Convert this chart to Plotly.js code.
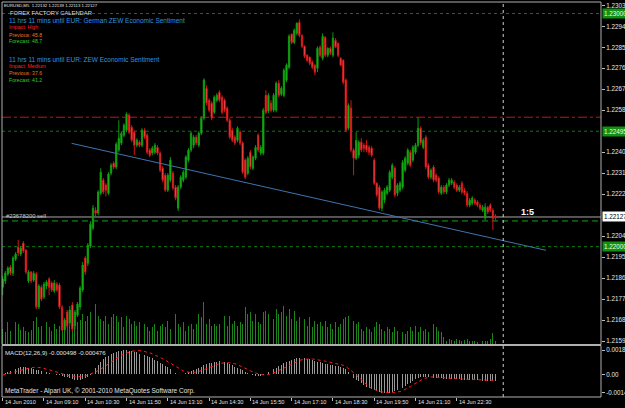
<!DOCTYPE html>
<html><head><meta charset="utf-8">
<script src="https://cdn.plot.ly/plotly-3.0.1.min.js"></script>
<style>html,body{margin:0;padding:0;background:#000;}#chart{width:625px;height:408px;}</style>
</head><body><div id="chart"></div>
<script>
// ---- EURUSD M5, 14 Jun 2010 07:50 .. 23:45 (bar by bar) ----
const openP = [
1.21826,1.21852,1.21882,1.21912,1.21886,1.21946,1.21998,1.21968,1.22015,1.21985,
1.21852,1.21891,1.21856,1.21882,1.21741,1.21826,1.21784,1.21831,1.21861,1.21844,
1.21809,1.21839,1.21835,1.21741,1.21642,1.21719,1.21672,1.21749,1.21659,1.21706,
1.21741,1.21814,1.21951,1.21929,1.22002,1.22079,1.22156,1.22144,1.22229,1.22285,
1.22264,1.22229,1.22315,1.22358,1.22341,1.22414,1.22444,1.22478,1.22499,1.22564,
1.22512,1.22491,1.22435,1.22448,1.22435,1.22499,1.22478,1.22414,1.22401,1.22405,
1.22426,1.22401,1.22336,1.22306,1.22242,1.22285,1.22315,1.22255,1.22165,1.22255,
1.22285,1.22298,1.22371,1.22414,1.22435,1.22469,1.22435,1.22486,1.22551,1.22679,
1.22628,1.22615,1.22576,1.22628,1.22662,1.22641,1.22628,1.22594,1.22542,1.22499,
1.22469,1.22456,1.22491,1.22444,1.22371,1.22315,1.22405,1.22336,1.22379,1.22478,
1.22401,1.22401,1.22649,1.22581,1.22615,1.22585,1.22585,1.22701,1.22654,1.22649,
1.22714,1.22769,1.22911,1.22876,1.22915,1.22962,1.22906,1.22859,1.22821,1.22812,
1.22791,1.22778,1.22765,1.22855,1.22808,1.22898,1.22821,1.22851,1.22821,1.22885,
1.22872,1.22808,1.22799,1.22714,1.22508,1.22594,1.22414,1.22379,1.22392,1.22448,
1.22435,1.22435,1.22426,1.22422,1.22371,1.22272,1.22255,1.22165,1.22199,1.22229,
1.22242,1.22298,1.22336,1.22229,1.22242,1.22255,1.22328,1.22358,1.22405,1.22371,
1.22405,1.22435,1.22508,1.22426,1.22469,1.22349,1.22298,1.22341,1.22306,1.22294,
1.22229,1.22255,1.22234,1.22264,1.22272,1.22276,1.22264,1.22242,1.22272,1.22242,
1.22229,1.22178,1.22186,1.22199,1.22191,1.22178,1.22156,1.22122,1.22169,1.22178,
1.22156,1.22132];
const highP = [
1.21874,1.21895,1.21916,1.21921,1.21959,1.21976,1.22028,1.22002,1.22024,1.21989,
1.21899,1.21895,1.21895,1.21891,1.21839,1.21835,1.21848,1.21856,1.21869,1.21852,
1.21856,1.21848,1.21844,1.21749,1.21694,1.21728,1.21745,1.21762,1.21728,1.21762,
1.21831,1.21934,1.21959,1.22015,1.22109,1.22178,1.22169,1.22242,1.22336,1.22294,
1.22272,1.22319,1.22358,1.22366,1.22448,1.22542,1.22495,1.22529,1.22576,1.22572,
1.22521,1.22499,1.22465,1.22456,1.22508,1.22508,1.22486,1.22422,1.22431,1.22444,
1.22435,1.22409,1.22345,1.22315,1.22315,1.22384,1.22324,1.22264,1.22264,1.22306,
1.22328,1.22392,1.22422,1.22495,1.22478,1.22478,1.22495,1.22559,1.22722,1.22692,
1.22636,1.22624,1.22649,1.22658,1.22671,1.22649,1.22636,1.22602,1.22551,1.22508,
1.22478,1.22516,1.22499,1.22452,1.22379,1.22388,1.22414,1.22392,1.22435,1.22486,
1.22435,1.22594,1.22671,1.22658,1.22628,1.22658,1.22709,1.22714,1.22688,1.22765,
1.22786,1.22911,1.22915,1.22936,1.22962,1.22975,1.22911,1.22864,1.22825,1.22816,
1.22799,1.22782,1.22859,1.22864,1.22915,1.22902,1.22855,1.22859,1.22919,1.22894,
1.22876,1.22812,1.22804,1.22722,1.22615,1.22628,1.22422,1.22491,1.22456,1.22465,
1.22444,1.22456,1.22435,1.22431,1.22379,1.22276,1.22264,1.22242,1.22251,1.22264,
1.22328,1.22358,1.22345,1.22272,1.22281,1.22371,1.22388,1.22422,1.22414,1.22435,
1.22444,1.22555,1.22516,1.22465,1.22478,1.22358,1.22336,1.22349,1.22315,1.22302,
1.22264,1.22264,1.22272,1.22294,1.22294,1.22285,1.22272,1.22264,1.22281,1.22251,
1.22238,1.22208,1.22216,1.22208,1.22199,1.22186,1.22178,1.22186,1.22174,1.22186,
1.22165,1.22139];
const lowP = [
1.21792,1.21839,1.21874,1.21878,1.21874,1.21938,1.21959,1.21959,1.21972,1.21882,
1.21844,1.21844,1.21848,1.21732,1.21732,1.21766,1.21775,1.21818,1.21792,1.21805,
1.21801,1.21805,1.21732,1.21638,1.21634,1.21651,1.21659,1.21634,1.21646,1.21698,
1.21728,1.21805,1.21878,1.21916,1.21994,1.22071,1.22131,1.22135,1.22221,1.22225,
1.22216,1.22221,1.22306,1.22332,1.22332,1.22405,1.22435,1.22469,1.22491,1.22482,
1.22448,1.22392,1.22426,1.22426,1.22426,1.22461,1.22396,1.22384,1.22392,1.22396,
1.22392,1.22319,1.22276,1.22234,1.22234,1.22276,1.22242,1.22199,1.22152,1.22246,
1.22276,1.22289,1.22362,1.22405,1.22422,1.22435,1.22426,1.22478,1.22542,1.22606,
1.22576,1.22542,1.22568,1.22619,1.22619,1.22568,1.22576,1.22534,1.22461,1.22448,
1.22435,1.22448,1.22435,1.22311,1.22289,1.22306,1.22332,1.22328,1.22371,1.22405,
1.22392,1.22392,1.22568,1.22572,1.22576,1.22576,1.22576,1.22641,1.22645,1.22641,
1.22705,1.22761,1.22868,1.22868,1.22906,1.22898,1.22851,1.22808,1.22791,1.22778,
1.22761,1.22735,1.22748,1.22812,1.22799,1.22812,1.22812,1.22821,1.22812,1.22851,
1.22812,1.22774,1.22696,1.22491,1.22499,1.22405,1.22306,1.22371,1.22379,1.22405,
1.22405,1.22405,1.22392,1.22384,1.22264,1.22212,1.22156,1.22152,1.22186,1.22221,
1.22234,1.22289,1.22212,1.22216,1.22234,1.22246,1.22319,1.22349,1.22341,1.22362,
1.22396,1.22426,1.22435,1.22418,1.22332,1.22289,1.22289,1.22276,1.22276,1.22225,
1.22221,1.22225,1.22225,1.22255,1.22264,1.22246,1.22234,1.22234,1.22225,1.22221,
1.22169,1.22169,1.22178,1.22178,1.22169,1.22156,1.22148,1.22114,1.22139,1.22148,
1.22071,1.22113];
const closeP = [
1.21861,1.21886,1.21908,1.21886,1.21951,1.21968,1.21972,1.21994,1.21981,1.21891,
1.21891,1.21852,1.21886,1.21741,1.21831,1.21775,1.21839,1.21848,1.21826,1.21814,
1.21844,1.21814,1.21741,1.21642,1.21685,1.21659,1.21728,1.21646,1.21719,1.21754,
1.21822,1.21921,1.21891,1.22006,1.22096,1.22165,1.22144,1.22234,1.22319,1.22234,
1.22242,1.22311,1.22349,1.22341,1.22439,1.22465,1.22486,1.22521,1.22568,1.22491,
1.22456,1.22435,1.22456,1.22435,1.22499,1.22469,1.22405,1.22392,1.22422,1.22435,
1.22401,1.22328,1.22285,1.22242,1.22306,1.22371,1.22251,1.22208,1.22255,1.22298,
1.22319,1.22384,1.22414,1.22486,1.22469,1.22444,1.22486,1.22551,1.22714,1.22615,
1.22585,1.22551,1.22641,1.22649,1.22628,1.22576,1.22585,1.22542,1.22469,1.22456,
1.22444,1.22508,1.22444,1.22319,1.22298,1.22379,1.22341,1.22384,1.22426,1.22414,
1.22426,1.22585,1.22576,1.22649,1.22585,1.22649,1.22701,1.22649,1.22679,1.22756,
1.22778,1.22902,1.22876,1.22928,1.22958,1.22906,1.22859,1.22816,1.22799,1.22786,
1.22769,1.22748,1.22851,1.22821,1.22902,1.22821,1.22851,1.22829,1.22894,1.22855,
1.22821,1.22778,1.22705,1.22499,1.22606,1.22414,1.22379,1.22456,1.22448,1.22414,
1.22422,1.22414,1.22405,1.22392,1.22272,1.22221,1.22165,1.22234,1.22242,1.22255,
1.22319,1.22349,1.22221,1.22264,1.22272,1.22362,1.22379,1.22414,1.22349,1.22426,
1.22435,1.22508,1.22444,1.22456,1.22341,1.22298,1.22328,1.22285,1.22285,1.22234,
1.22255,1.22234,1.22264,1.22285,1.22285,1.22255,1.22242,1.22255,1.22234,1.22229,
1.22178,1.22199,1.22208,1.22186,1.22178,1.22165,1.22169,1.22169,1.22148,1.22156,
1.22120,1.22127];
const tickVolume = [
150,120,220,130,170,220,200,140,170,130,
120,140,230,270,170,180,150,220,170,130,
200,150,180,220,130,230,180,250,170,220,
240,300,230,280,320,220,400,280,250,230,
280,200,270,300,280,220,270,170,280,250,
200,230,180,220,170,200,170,130,170,200,
130,180,200,170,230,150,200,300,200,170,
220,130,180,200,150,200,300,270,420,200,
250,180,200,180,200,230,280,180,280,200,
230,180,220,200,370,300,320,230,300,220,
200,320,330,300,330,250,350,300,320,380,
280,350,250,330,230,270,200,250,180,270,
170,230,200,220,180,230,170,200,150,220,
170,200,250,270,280,370,230,200,220,150,
130,170,150,120,170,220,200,150,130,170,
150,120,170,130,150,120,100,130,170,130,
180,120,170,130,150,120,180,200,170,130,
120,70,30,50,40,30,50,40,30,40,
50,30,30,30,20,20,30,30,30,50,
110,30];
const macdMain = [
0.00005,0.00012,0.00020,0.00028,0.00036,0.00043,0.00049,0.00053,0.00055,0.00053,0.00050,
0.00046,0.00041,0.00036,0.00031,0.00026,0.00021,0.00016,0.00011,
0.00006,0.00002,-0.00003,-0.00008,-0.00013,
-0.00018,-0.00024,-0.00030,-0.00036,-0.00040,-0.00042,-0.00040,-0.00035,-0.00028,-0.00019,-0.00008,
0.00020,0.00045,0.00070,0.00095,0.00115,0.00130,0.00143,0.00154,0.00163,0.00170,0.00176,0.00181,0.00185,0.00185,0.00183,0.00180,0.00175,
0.00168,0.00160,0.00153,0.00148,0.00140,0.00132,0.00123,0.00112,0.00100,0.00090,0.00078,0.00067,0.00054,0.00040,0.00026,0.00012,
0.00004,0.00000,0.00002,0.00008,0.00016,
0.00025,0.00034,0.00043,0.00050,0.00060,0.00070,0.00078,0.00085,0.00090,0.00095,0.00098,0.00099,0.00097,0.00092,0.00085,0.00078,
0.00070,0.00060,0.00050,0.00040,0.00030,0.00020,0.00010,0.00000,
-0.00008,-0.00013,-0.00015,-0.00015,-0.00006,0.00006,0.00018,
0.00030,0.00040,0.00050,0.00062,0.00074,0.00085,0.00095,0.00105,0.00112,0.00118,0.00123,0.00128,0.00126,
0.00123,0.00119,0.00114,0.00109,0.00104,0.00098,0.00092,0.00087,0.00081,0.00076,0.00071,0.00068,0.00065,0.00061,0.00056,0.00049,0.00039,0.00020,
-0.00007,-0.00025,-0.00040,-0.00055,-0.00070,-0.00083,-0.00095,-0.00106,-0.00115,-0.00123,-0.00130,-0.00136,-0.00140,-0.00143,-0.00143,-0.00141,-0.00137,-0.00131,-0.00123,-0.00113,-0.00102,-0.00090,-0.00077,-0.00064,-0.00050,-0.00038,-0.00028,-0.00022,-0.00019,
-0.00018,-0.00021,-0.00025,-0.00026,-0.00029,-0.00031,-0.00030,-0.00033,-0.00033,-0.00035,-0.00036,-0.00038,-0.00038,-0.00039,-0.00041,-0.00041,-0.00043,-0.00044,-0.00044,-0.00046,-0.00046,-0.00047,-0.00048,-0.00048,-0.00049,-0.00049,-0.00050,-0.000498];
const macdSignal = [
-0.00006,-0.00002,0.00003,0.00009,0.00015,0.00021,0.00027,0.00033,0.00039,0.00044,0.00048,0.00051,0.00053,0.00054,
0.00053,0.00050,0.00046,0.00041,0.00035,0.00029,0.00023,0.00016,0.00009,
0.00003,-0.00003,-0.00008,-0.00012,-0.00015,-0.00017,-0.00018,-0.00018,-0.00016,-0.00012,-0.00006,0.00002,
0.00008,0.00017,0.00028,0.00040,0.00054,0.00068,0.00082,0.00096,0.00110,0.00123,0.00135,0.00146,0.00156,0.00164,0.00171,0.00176,0.00180,0.00182,0.00182,0.00180,0.00176,
0.00171,0.00165,0.00158,0.00150,0.00141,0.00131,0.00120,0.00109,0.00097,0.00085,
0.00070,0.00058,0.00046,0.00035,0.00026,0.00019,0.00015,0.00013,0.00014,0.00017,0.00022,0.00029,0.00037,0.00045,0.00053,0.00061,0.00068,0.00075,0.00081,0.00086,0.00089,0.00090,0.00089,0.00086,0.00081,0.00074,0.00066,0.00057,0.00047,0.00037,0.00027,0.00018,0.00010,0.00003,-0.00002,
-0.00005,-0.00005,-0.00002,0.00003,0.00010,0.00018,0.00028,0.00038,0.00049,0.00060,0.00071,0.00081,0.00091,0.00099,0.00106,0.00112,0.00116,0.00118,0.00119,0.00118,0.00116,0.00113,0.00109,0.00105,0.00101,0.00097,0.00093,0.00089,0.00085,
0.00081,0.00076,0.00070,0.00060,0.00046,0.00030,0.00013,-0.00005,-0.00024,-0.00043,-0.00062,-0.00080,-0.00095,-0.00108,-0.00118,-0.00126,-0.00132,-0.00136,-0.00139,-0.00140,-0.00140,-0.00140,-0.00139,-0.00137,-0.00133,-0.00126,-0.00117,-0.00106,-0.00094,-0.00081,-0.00068,-0.00055,-0.00044,-0.00035,-0.00029,-0.00024,-0.00021,-0.00020,-0.00021,-0.00023,-0.00025,
-0.00027,-0.00029,-0.00030,-0.00032,-0.00033,-0.00035,-0.00036,-0.00037,-0.00038,-0.00039,-0.00040,-0.00041,-0.00042,-0.00043,-0.00044,-0.00045,-0.000455,-0.00046,-0.000465,-0.00047,-0.000476];

// time axis labels (bar number from first visible bar 07:50)
const timeTickBars = [0,16,32,48,64,80,96,112,128,144,160,176];
const timeTickLabels = ['14 Jun 2010','14 Jun 09:10','14 Jun 10:30','14 Jun 11:50','14 Jun 13:10','14 Jun 14:30','14 Jun 15:50','14 Jun 17:10','14 Jun 18:30','14 Jun 19:50','14 Jun 21:10','14 Jun 22:30'];
const priceTicks = [1.23035,1.22945,1.22855,1.22765,1.22675,1.22585,1.22405,1.22315,1.22225,1.22045,1.21955,1.21865,1.21775,1.21685,1.21595];
const macdTicks = [0.00185,0,-0.00143];
const macdTickLabels = ['0.00185','0.00','-0.00143'];
const greenLevels = [1.23000,1.22495,1.22000];
const redLevel = 1.22555;
const orderLevel = 1.22110;
const bidPrice = 1.22127;
const trendBars = [26.7,210.6];
const trendPrices = [1.22443,1.21984];
const daySeparatorBar = 194;
const calendarLines = [
  ['FOREX FACTORY CALENDAR','#dcdcdc'],
  ['11 hrs 11 mins until EUR: German ZEW Economic Sentiment','#2d95e0'],
  ['Impact: High','#ff2020'],
  ['Previous: 45.8','#e0782a'],
  ['Forecast: 48.7','#2ecc2e'],
  ['',''],
  ['11 hrs 11 mins until EUR: ZEW Economic Sentiment','#2d95e0'],
  ['Impact: Medium','#ff2020'],
  ['Previous: 37.6','#e0782a'],
  ['Forecast: 41.2','#2ecc2e']
];

const n = closeP.length;
[openP,highP,lowP,tickVolume,macdMain,macdSignal].forEach((a,k)=>{ if(a.length!==n) throw new Error('length mismatch '+k+': '+a.length+' vs '+n); });
const bars = closeP.map((_, i) => i);

const W = 625, H = 408;
const PX = v => v / W, PY = v => 1 - v / H;
const FONT = 'Liberation Sans, Arial, sans-serif';

const traces = [
  { type:'bar', x:bars, y:tickVolume, xaxis:'x', yaxis:'y', width:0.36,
    marker:{color:'#1a861a', line:{width:0}}, hoverinfo:'skip' },
  { type:'candlestick', x:bars, open:openP, high:highP, low:lowP, close:closeP,
    xaxis:'x', yaxis:'y2', whiskerwidth:0,
    increasing:{line:{color:'#0d9a0d', width:1}, fillcolor:'#25c825'},
    decreasing:{line:{color:'#d41515', width:1}, fillcolor:'#ff8a8a'},
    hoverinfo:'skip' },
  { type:'bar', x:bars, y:macdMain, xaxis:'x', yaxis:'y3', width:0.36,
    marker:{color:'#9a9a9a', line:{width:0}}, hoverinfo:'skip' },
  { type:'scatter', mode:'lines', x:bars, y:macdSignal, xaxis:'x', yaxis:'y3',
    line:{color:'#ff1a1a', width:1, dash:'dot'}, hoverinfo:'skip' }
];

const shapes = [];
greenLevels.forEach(l => shapes.push({type:'line', xref:'paper', yref:'y2', x0:PX(2), x1:PX(601), y0:l, y1:l, layer:'below', line:{color:'#0b7a0b', width:1, dash:'dot'}}));
shapes.push({type:'line', xref:'paper', yref:'y2', x0:PX(2), x1:PX(601), y0:redLevel, y1:redLevel, layer:'below', line:{color:'#c81414', width:1, dash:'dashdot'}});
shapes.push({type:'line', xref:'paper', yref:'y2', x0:PX(2), x1:PX(601), y0:bidPrice, y1:bidPrice, layer:'below', line:{color:'#a8a8a8', width:1}});
shapes.push({type:'line', xref:'paper', yref:'y2', x0:PX(2), x1:PX(601), y0:orderLevel, y1:orderLevel, layer:'below', line:{color:'#1aa01a', width:1, dash:'6px,4px'}});
shapes.push({type:'line', xref:'x', yref:'y2', x0:trendBars[0], x1:trendBars[1], y0:trendPrices[0], y1:trendPrices[1], layer:'above', line:{color:'#3f74b0', width:1}});
shapes.push({type:'line', xref:'x', yref:'paper', x0:daySeparatorBar, x1:daySeparatorBar, y0:PY(397), y1:PY(2), layer:'above', line:{color:'#cfcfcf', width:1, dash:'dot'}});
// panel frames
shapes.push({type:'rect', xref:'paper', yref:'paper', x0:PX(2), x1:PX(601), y0:PY(344.5), y1:PY(2), layer:'above', line:{color:'#b0b0b0', width:1}});
shapes.push({type:'rect', xref:'paper', yref:'paper', x0:PX(2), x1:PX(601), y0:PY(397), y1:PY(345.5), layer:'above', line:{color:'#b0b0b0', width:1}});

const ann = [];
const txt = (x, y, text, color, size, extra) => Object.assign({xref:'paper', yref:'paper', x:PX(x), y:PY(y), text, showarrow:false, xanchor:'left', yanchor:'middle', font:{family:FONT, size, color}, borderpad:0}, extra||{});
ann.push(txt(3, 5.5, 'EURUSD,M5  1.22132 1.22139 1.22113 1.22127', '#e6e6e6', 4.3));
const calY = [13, 20.5, 27.5, 34.5, 41.5, 50, 59.3, 66.5, 73.3, 79.8];
const calSize = [5.8, 6.5, 5.2, 5.2, 5.2, 0, 6.5, 5.2, 5.2, 5.2];
calendarLines.forEach((c, k) => { if (c[0]) ann.push(txt(k === 0 ? 9 : 8, calY[k], c[0], c[1], calSize[k])); });
ann.push(txt(5, 216, '#23678200 sell', '#c8c8c8', 5.9));
ann.push(txt(520, 212, '<b>1:5</b>', '#ffffff', 9));
ann.push(txt(3.5, 352, 'MACD(12,26,9) -0.000498 -0.000476', '#e0e0e0', 6.1));
ann.push(txt(3.5, 391, 'MetaTrader - Alpari UK, \u00a9 2001-2010 MetaQuotes Software Corp.', '#e0e0e0', 6.5));
timeTickBars.forEach((b, k) => ann.push({xref:'x', yref:'paper', x:b, y:PY(402), text:timeTickLabels[k], showarrow:false, xanchor:'left', yanchor:'middle', xshift:1, font:{family:FONT, size:5.6, color:'#e0e0e0'}, borderpad:0}));
// price boxes on the right scale
greenLevels.forEach(l => ann.push({xref:'paper', yref:'y2', x:PX(602), y:l, text:l.toFixed(5), showarrow:false, xanchor:'left', yanchor:'middle', bgcolor:'#119111', font:{family:FONT, size:6.3, color:'#e8ffe8'}, borderpad:1}));
ann.push({xref:'paper', yref:'y2', x:PX(602), y:bidPrice, text:bidPrice.toFixed(5), showarrow:false, xanchor:'left', yanchor:'middle', bgcolor:'#ffffff', font:{family:FONT, size:6.3, color:'#000000'}, borderpad:1});

const axisFont = {family:FONT, size:6.3, color:'#e6e6e6'};
const layout = {
  width:W, height:H, margin:{l:0, r:0, t:0, b:0},
  paper_bgcolor:'#000000', plot_bgcolor:'#000000', showlegend:false, dragmode:false,
  bargap:0,
  xaxis:{domain:[PX(2), PX(601)], range:[-0.27, 231.9], anchor:'y3', showgrid:false, zeroline:false,
         tickmode:'array', tickvals:timeTickBars, ticks:'outside', ticklen:3, tickcolor:'#bdbdbd',
         showticklabels:false, rangeslider:{visible:false}, fixedrange:true},
  yaxis:{domain:[PY(344.5), PY(2)], range:[0, 3415], visible:false, fixedrange:true},
  yaxis2:{overlaying:'y', side:'right', anchor:'x', range:[1.215800, 1.230493], showgrid:false, zeroline:false,
          tickmode:'array', tickvals:priceTicks, ticktext:priceTicks.map(v => v.toFixed(5)),
          ticks:'outside', ticklen:3, tickcolor:'#bdbdbd', tickfont:axisFont, fixedrange:true},
  yaxis3:{domain:[PY(397), PY(345.5)], side:'right', anchor:'x', range:[-0.0017462, 0.0022154], showgrid:false, zeroline:false,
          tickmode:'array', tickvals:macdTicks, ticktext:macdTickLabels,
          ticks:'outside', ticklen:3, tickcolor:'#bdbdbd', tickfont:axisFont, fixedrange:true},
  shapes, annotations:ann
};
Plotly.newPlot('chart', traces, layout, {staticPlot:true, displayModeBar:false});
</script></body></html>
